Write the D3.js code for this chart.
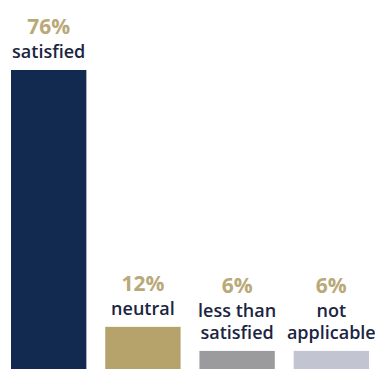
<!DOCTYPE html>
<html>
<head>
<meta charset="utf-8">
<script src="https://cdn.jsdelivr.net/npm/d3@7"></script>
<style>
	html, body { margin: 0; padding: 0; background: #fff; }
</style>
</head>
<body>
<div id="chart"></div>
<script>
const categories = ["satisfied", "neutral", "less than satisfied", "not applicable"];
const labelLines = [["satisfied"], ["neutral"], ["less than", "satisfied"], ["not", "applicable"]];
const values = [76, 12, 6, 6];
const colors = ["#132a50", "#b5a36b", "#9b9b9d", "#c3c4d1"];

const width = 375, height = 369;

const svg = d3.select("#chart")
	.append("svg")
	.attr("width", width)
	.attr("height", height);

// bars run off the bottom edge a little, like the source
const x = d3.scaleBand()
	.domain(categories)
	.range([11, 369])
	.paddingInner(0.2)
	.paddingOuter(0);

const y = d3.scaleLinear()
	.domain([0, 76])
	.range([375, 70]);

const data = categories.map((c, i) => ({name: c, value: values[i], lines: labelLines[i], color: colors[i]}));

svg.append("g")
	.selectAll("rect")
	.data(data).enter()
	.append("rect")
	.attr("x", d => x(d.name))
	.attr("y", d => y(d.value))
	.attr("width", x.bandwidth())
	.attr("height", d => y(0) - y(d.value))
	.attr("fill", d => d.color);

const labels = svg.append("g")
	.selectAll("g")
	.data(data).enter()
	.append("g")
	.attr("transform", d => `translate(${x(d.name) + x.bandwidth() / 2},${y(d.value)})`)
	.attr("text-anchor", "middle")
	.style("font-family", "'Open Sans', sans-serif");

labels.each(function(d) {
	const g = d3.select(this);
	const n = d.lines.length;
	d.lines.forEach((line, i) => {
		g.append("text")
			.attr("y", -12 - (n - 1 - i) * 22)
			.attr("fill", "#1b2542")
			.style("font-size", "18px")
			.style("font-weight", 600)
			.text(line);
	});
	g.append("text")
		.attr("y", -12 - (n - 1) * 22 - 24)
		.attr("fill", "#b9a979")
		.style("font-size", "21px")
		.style("font-weight", 700)
		.text(d.value + "%");
});
</script>
</body>
</html>
